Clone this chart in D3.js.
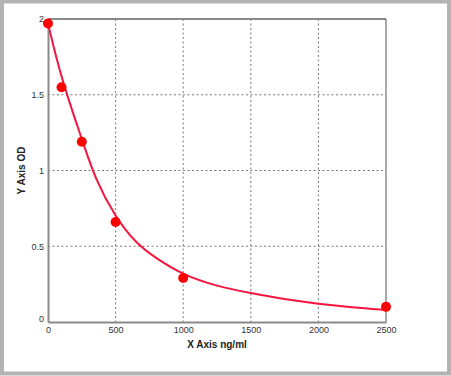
<!DOCTYPE html>
<html>
<head>
<meta charset="utf-8">
<script src="https://cdn.jsdelivr.net/npm/d3@7"></script>
<style>
  body { margin: 0; background: #fff; }
  svg { display: block; }
</style>
</head>
<body>
<div id="chart"></div>
<script>
// measured points
var sampleX = [0, 100, 250, 500, 1000, 2500];
var sampleY = [1.97, 1.55, 1.19, 0.66, 0.29, 0.10];

// fitted curve
var curveX = [0, 100, 250, 350, 500, 650, 800, 1000, 1250, 1500, 1750, 2000, 2250, 2500];
var curveY = [1.97, 1.60, 1.21, 0.94, 0.69, 0.52, 0.42, 0.31, 0.235, 0.19, 0.15, 0.12, 0.097, 0.08];

var xTicks = [0, 500, 1000, 1500, 2000, 2500];
var yTicks = [0, 0.5, 1, 1.5, 2];

var W = 451, H = 376;
var margin = {top: 19, right: 65, bottom: 54, left: 48},
  width = W - margin.left - margin.right,
  height = H - margin.top - margin.bottom;

var svg = d3.select("#chart")
.append("svg")
  .attr("width", W)
  .attr("height", H);

// outer frame
svg.append("rect")
  .attr("x", 2).attr("y", 1.5)
  .attr("width", W - 4).attr("height", H - 4)
  .attr("fill", "#fff")
  .attr("stroke", "#b3b3b3")
  .attr("stroke-width", 4);

var g = svg.append("g")
  .attr("transform", "translate(" + margin.left + "," + margin.top + ")");

var x = d3.scaleLinear().domain([0, 2500]).range([0, width]);
var y = d3.scaleLinear().domain([0, 2]).range([height, 0]);

// dotted grid
g.selectAll(".vgrid")
  .data(xTicks.slice(1, -1))
  .enter().append("line")
  .attr("x1", d => x(d)).attr("x2", d => x(d))
  .attr("y1", 0).attr("y2", height)
  .attr("stroke", "#777")
  .attr("stroke-dasharray", "2,2.5");

g.selectAll(".hgrid")
  .data(yTicks.slice(1, -1))
  .enter().append("line")
  .attr("x1", 0).attr("x2", width)
  .attr("y1", d => y(d)).attr("y2", d => y(d))
  .attr("stroke", "#777")
  .attr("stroke-dasharray", "2,2.5");

// plot frame
g.append("line").attr("x1", 0).attr("x2", width).attr("y1", 0).attr("y2", 0)
  .attr("stroke", "#8a8a8a").attr("stroke-width", 2);
g.append("line").attr("x1", width).attr("x2", width).attr("y1", 0).attr("y2", height)
  .attr("stroke", "#555").attr("stroke-width", 1);

// axes
var xAxis = g.append("g")
  .attr("transform", "translate(0," + height + ")")
  .call(d3.axisBottom(x).tickValues(xTicks).tickSize(0).tickPadding(5).tickFormat(d3.format("d")));
var yAxis = g.append("g")
  .call(d3.axisLeft(y).tickValues(yTicks).tickSize(0).tickPadding(4).tickFormat(d => d));

[xAxis, yAxis].forEach(function(a) {
  a.select(".domain").attr("stroke", "#8a8a8a").attr("stroke-width", 2);
  a.selectAll("text")
    .style("font-family", "Liberation Sans, Arial, sans-serif")
    .style("font-size", "9px")
    .attr("fill", "#333");
});
yAxis.selectAll("text").filter(d => d === 0).attr("dy", "-0.1em");

// curve
var line = d3.line()
  .x(function(d, i) { return x(curveX[i]) })
  .y(function(d) { return y(d) })
  .curve(d3.curveBasis);

g.append("path")
  .datum(curveY)
  .attr("d", line)
  .attr("fill", "none")
  .attr("stroke", "#f5153f")
  .attr("stroke-width", 2);

// points
g.selectAll(".pt")
  .data(sampleY)
  .enter().append("circle")
  .attr("cx", function(d, i) { return x(sampleX[i]) })
  .attr("cy", function(d) { return y(d) })
  .attr("r", 5)
  .attr("fill", "#ff0000");

// axis titles
g.append("text")
  .attr("x", width / 2)
  .attr("y", height + 26)
  .attr("text-anchor", "middle")
  .style("font-family", "Liberation Sans, Arial, sans-serif")
  .style("font-size", "10px")
  .style("font-weight", "bold")
  .attr("fill", "#222")
  .text("X Axis ng/ml");

g.append("text")
  .attr("transform", "translate(" + (-23) + "," + (height / 2) + ") rotate(-90)")
  .attr("text-anchor", "middle")
  .style("font-family", "Liberation Sans, Arial, sans-serif")
  .style("font-size", "10px")
  .style("font-weight", "bold")
  .attr("fill", "#222")
  .text("Y Axis OD");
</script>
</body>
</html>
